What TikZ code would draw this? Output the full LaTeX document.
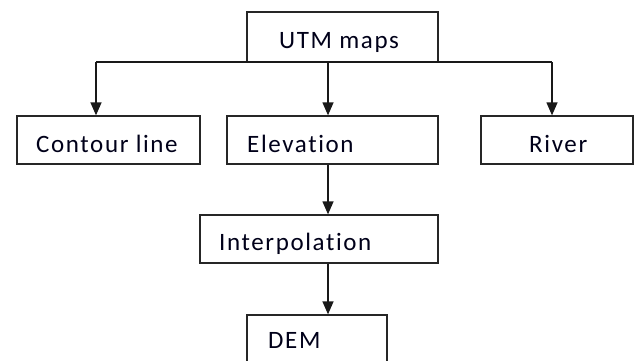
\documentclass[tikz,border=0pt]{standalone}
\usepackage{fontspec}
\setmainfont[Ligatures=NoCommon,LetterSpace=6.5]{Carlito}
\usetikzlibrary{arrows.meta}
\begin{document}
\begin{tikzpicture}[x=1pt,y=-1pt,
  box/.style={draw=black!85, line width=1.3pt, rectangle, inner sep=0pt},
  lbl/.style={inner sep=0pt, anchor=base west, font=\fontsize{25}{28}\selectfont, text=black!90!blue},
  arr/.style={line width=1.3pt, draw=black!90, -{Triangle[width=11pt,length=13pt]}}]
\useasboundingbox (0,0) rectangle (636,360);
\clip (0,0) rectangle (636,360);
% boxes
\node[box, minimum width=191pt, minimum height=50pt] (utm) at (342.5,37) {};
\node[box, minimum width=183pt, minimum height=48pt] (cont) at (108.5,140) {};
\node[box, minimum width=211pt, minimum height=48pt] (elev) at (332.5,140) {};
\node[box, minimum width=152pt, minimum height=48pt] (river) at (557,140) {};
\node[box, minimum width=238pt, minimum height=48pt] (interp) at (319,239) {};
\node[box, minimum width=140pt, minimum height=60pt] (dem) at (317,345) {};
% labels
\node[lbl] (tutm) at (279,48) {UTM maps};
\node[lbl] (tcont) at (36,152) {Contour line};
\node[lbl] (telev) at (247,152) {Elevation};
\node[lbl] (triver) at (529,152) {River};
\node[lbl] (tinterp) at (219,250) {Interpolation};
\node[lbl] (tdem) at (268,348) {DEM};
% connectors
\coordinate (jl) at (96,62);
\coordinate (jm) at (328,62);
\coordinate (jr) at (552,62);
\draw[line width=1.3pt, draw=black!90] (jl) -- (jr);
\draw[arr] (jl) -- (jl |- cont.north);
\draw[arr] (jm) -- (jm |- elev.north);
\draw[arr] (jr) -- (jr |- river.north);
\draw[arr] (jm |- elev.south) -- (jm |- interp.north);
\draw[arr] (jm |- interp.south) -- (jm |- dem.north);
\end{tikzpicture}
\end{document}
